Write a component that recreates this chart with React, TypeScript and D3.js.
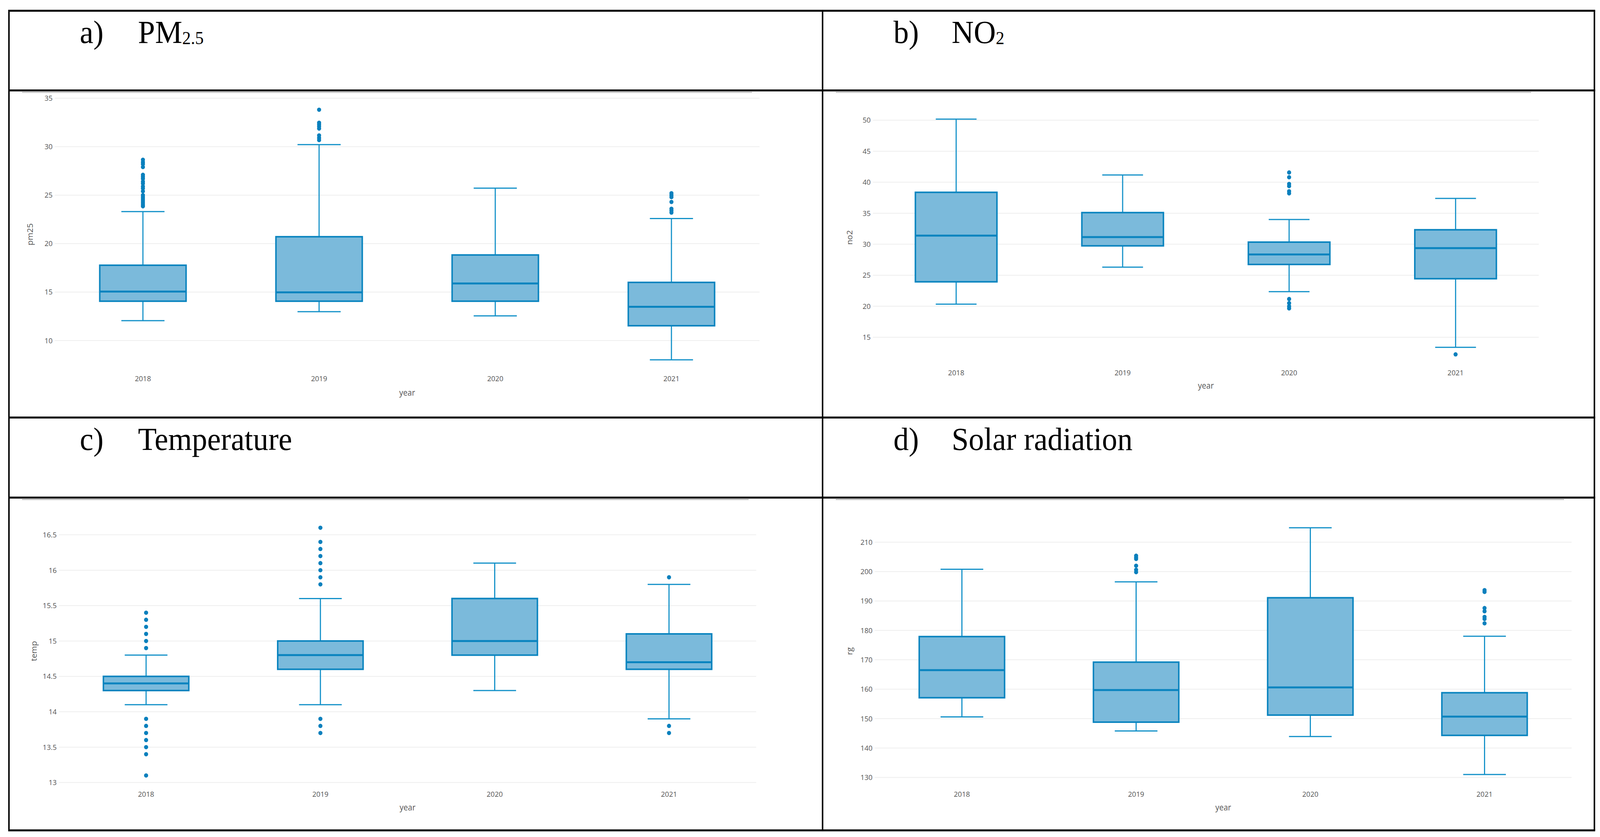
import * as d3 from 'd3'

const years = ['2018', '2019', '2020', '2021']

// each box: [lower whisker, q1, median, q3, upper whisker]
const pm25Boxes = [
  [12.05, 14.06, 15.05, 17.77, 23.3],
  [12.98, 14.06, 14.97, 20.71, 30.21],
  [12.55, 14.06, 15.89, 18.83, 25.72],
  [8.01, 11.53, 13.48, 16.0, 22.59],
]
const pm25Outliers = [
  [23.85, 24.0, 24.2, 24.4, 24.6, 24.8, 25.0, 25.4, 25.7, 25.9, 26.2, 26.4, 26.7, 26.9, 27.1, 27.9, 28.2, 28.4, 28.65],
  [30.68, 30.9, 31.16, 31.87, 32.1, 32.3, 32.47, 33.81],
  [],
  [23.2, 23.4, 23.6, 24.3, 24.8, 25.0, 25.2],
]
const pm25Ticks = [10, 15, 20, 25, 30, 35]

const no2Boxes = [
  [20.33, 23.94, 31.39, 38.37, 50.17],
  [26.3, 29.74, 31.15, 35.1, 41.17],
  [22.35, 26.74, 28.35, 30.34, 33.98],
  [13.38, 24.44, 29.37, 32.33, 37.39],
]
const no2Outliers = [[], [], [19.66, 19.99, 20.5, 21.17, 38.2, 38.54, 39.38, 39.72, 40.8, 41.57], [12.24]]
const no2Ticks = [15, 20, 25, 30, 35, 40, 45, 50]

const tempBoxes = [
  [14.1, 14.3, 14.4, 14.5, 14.8],
  [14.1, 14.6, 14.8, 15.0, 15.6],
  [14.3, 14.8, 15.0, 15.6, 16.1],
  [13.9, 14.6, 14.7, 15.1, 15.8],
]
const tempOutliers = [
  [13.1, 13.4, 13.5, 13.6, 13.7, 13.8, 13.9, 14.9, 15.0, 15.1, 15.2, 15.3, 15.4],
  [13.7, 13.8, 13.9, 15.8, 15.9, 16.0, 16.1, 16.2, 16.3, 16.4, 16.6],
  [],
  [13.7, 13.8, 15.9],
]
const tempTicks = [13, 13.5, 14, 14.5, 15, 15.5, 16, 16.5]

const rgBoxes = [
  [150.6, 157.1, 166.5, 177.9, 200.8],
  [145.8, 148.8, 159.7, 169.2, 196.5],
  [143.9, 151.2, 160.6, 191.1, 214.9],
  [131.0, 144.3, 150.7, 158.8, 178.0],
]
const rgOutliers = [[], [199.8, 200.6, 202.0, 204.3, 204.8, 205.4], [], [182.4, 183.9, 184.6, 186.5, 187.6, 193.1, 193.7]]
const rgTicks = [130, 140, 150, 160, 170, 180, 190, 200, 210]

const W = 4289
const H = 2143
const LEFT = 24
const MID = 2205
const RIGHT = 4274
const ROWS = [27.5, 231.5, 1069, 1274, 2126]

const BOX_STROKE = '#0a84bf'
const WHISKER = '#1190c8'
const FILL = '#7bbadb'
const TICK_FONT = '"Open Sans", "DejaVu Sans", sans-serif'

type Panel = {
  boxes: number[][]
  outliers: number[][]
  ticks: number[]
  yTitle: string
  yDomain: [number, number]
  plot: { left: number; right: number; top: number; bottom: number }
  chartTop: number
  colLeft: number
  yTitlePos: [number, number]
  xLabelY: number
  xTitleY: number
}

const panels: Panel[] = [
  {
    boxes: pm25Boxes, outliers: pm25Outliers, ticks: pm25Ticks, yTitle: 'pm25',
    yDomain: [7.5, 35.3], plot: { left: 147, right: 2036, top: 244, bottom: 934 },
    chartTop: ROWS[1], colLeft: LEFT, yTitlePos: [81, 600], xLabelY: 976, xTitleY: 1013,
  },
  {
    boxes: no2Boxes, outliers: no2Outliers, ticks: no2Ticks, yTitle: 'no2',
    yDomain: [11, 52], plot: { left: 2340, right: 4125, top: 276, bottom: 927 },
    chartTop: ROWS[1], colLeft: MID, yTitlePos: [2277, 608], xLabelY: 961, xTitleY: 995,
  },
  {
    boxes: tempBoxes, outliers: tempOutliers, ticks: tempTicks, yTitle: 'temp',
    yDomain: [12.97, 16.75], plot: { left: 158, right: 2027, top: 1324, bottom: 2009 },
    chartTop: ROWS[3], colLeft: LEFT, yTitlePos: [91, 1667], xLabelY: 2040, xTitleY: 2075,
  },
  {
    boxes: rgBoxes, outliers: rgOutliers, ticks: rgTicks, yTitle: 'rg',
    yDomain: [129, 216], plot: { left: 2345, right: 4213, top: 1343, bottom: 1998 },
    chartTop: ROWS[3], colLeft: MID, yTitlePos: [2277, 1667], xLabelY: 2040, xTitleY: 2075,
  },
]

function BoxPanel({ p }: { p: Panel }) {
  const x = d3.scaleBand().domain(years).range([p.plot.left, p.plot.right])
  const y = d3.scaleLinear().domain(p.yDomain).range([p.plot.bottom, p.plot.top])
  const bw = x.bandwidth()
  const boxW = bw * 0.49
  const capW = boxW * 0.5
  return (
    <g>
      <line x1={p.colLeft + 35} x2={p.plot.right - 20} y1={p.chartTop + 5} y2={p.chartTop + 5} stroke="#aaa" strokeWidth={2} />
      {p.ticks.map((t) => (
        <g key={t}>
          <line x1={p.plot.left} x2={p.plot.right} y1={y(t)} y2={y(t)} stroke="#eeeeee" strokeWidth={2} />
          <text x={p.plot.left - 6} y={y(t)} dy="0.35em" textAnchor="end" fontSize={19} fill="#555" fontFamily={TICK_FONT}>
            {String(t)}
          </text>
        </g>
      ))}
      {years.map((yr, i) => {
        const [lo, q1, med, q3, hi] = p.boxes[i]
        const cx = (x(yr) as number) + bw / 2
        return (
          <g key={yr}>
            <line x1={cx} x2={cx} y1={y(lo)} y2={y(q1)} stroke={WHISKER} strokeWidth={3} />
            <line x1={cx} x2={cx} y1={y(q3)} y2={y(hi)} stroke={WHISKER} strokeWidth={3} />
            <line x1={cx - capW / 2} x2={cx + capW / 2} y1={y(lo)} y2={y(lo)} stroke={WHISKER} strokeWidth={3} />
            <line x1={cx - capW / 2} x2={cx + capW / 2} y1={y(hi)} y2={y(hi)} stroke={WHISKER} strokeWidth={3} />
            <rect x={cx - boxW / 2} y={y(q3)} width={boxW} height={y(q1) - y(q3)} fill={FILL} stroke={BOX_STROKE} strokeWidth={4} />
            <line x1={cx - boxW / 2} x2={cx + boxW / 2} y1={y(med)} y2={y(med)} stroke={BOX_STROKE} strokeWidth={5} />
            {p.outliers[i].map((v, j) => (
              <circle key={j} cx={cx} cy={y(v)} r={5.5} fill="#0a80bd" />
            ))}
            <text x={cx} y={p.xLabelY} textAnchor="middle" fontSize={19} fill="#555" fontFamily={TICK_FONT}>
              {yr}
            </text>
          </g>
        )
      })}
      <text x={(p.plot.left + p.plot.right) / 2} y={p.xTitleY} textAnchor="middle" fontSize={21} fill="#555" fontFamily={TICK_FONT}>
        year
      </text>
      <text
        transform={`translate(${p.yTitlePos[0]},${p.yTitlePos[1]}) rotate(-90)`}
        dy="0.35em"
        textAnchor="middle"
        fontSize={21}
        fill="#555"
        fontFamily={TICK_FONT}
      >
        {p.yTitle}
      </text>
    </g>
  )
}

const TITLE_FONT = '"Liberation Serif", "Times New Roman", serif'

function Header({ colLeft, rowTop, tag, main, sub }: { colLeft: number; rowTop: number; tag: string; main: string; sub?: string }) {
  const base = rowTop + 83
  return (
    <g fontFamily={TITLE_FONT} fill="#000">
      <text x={colLeft + 190} y={base} fontSize={82}>{tag}</text>
      <text x={colLeft + 346} y={base} fontSize={82}>
        {main}
        {sub && <tspan fontSize={46} dy={3}>{sub}</tspan>}
      </text>
    </g>
  )
}

export default function App() {
  // stretch the drawing over the whole viewport, whatever its real size
  return (
    <svg
      viewBox={`0 0 ${W} ${H}`}
      preserveAspectRatio="none"
      style={{ position: 'fixed', left: 0, top: 0, width: '100vw', height: '100vh', background: '#fff', display: 'block' }}
    >
      <rect width={W} height={H} fill="#fff" />
      {panels.map((p, i) => (
        <BoxPanel key={i} p={p} />
      ))}
      <Header colLeft={LEFT} rowTop={ROWS[0]} tag="a)" main="PM" sub="2.5" />
      <Header colLeft={MID} rowTop={ROWS[0]} tag="b)" main="NO" sub="2" />
      <Header colLeft={LEFT} rowTop={ROWS[2]} tag="c)" main="Temperature" />
      <Header colLeft={MID} rowTop={ROWS[2]} tag="d)" main="Solar radiation" />
      {ROWS.map((r) => (
        <line key={r} x1={LEFT - 2} x2={RIGHT + 2} y1={r} y2={r} stroke="#000" strokeWidth={5} />
      ))}
      {[LEFT, MID, RIGHT].map((c) => (
        <line key={c} x1={c} x2={c} y1={ROWS[0]} y2={ROWS[4]} stroke="#000" strokeWidth={4} />
      ))}
    </svg>
  )
}
